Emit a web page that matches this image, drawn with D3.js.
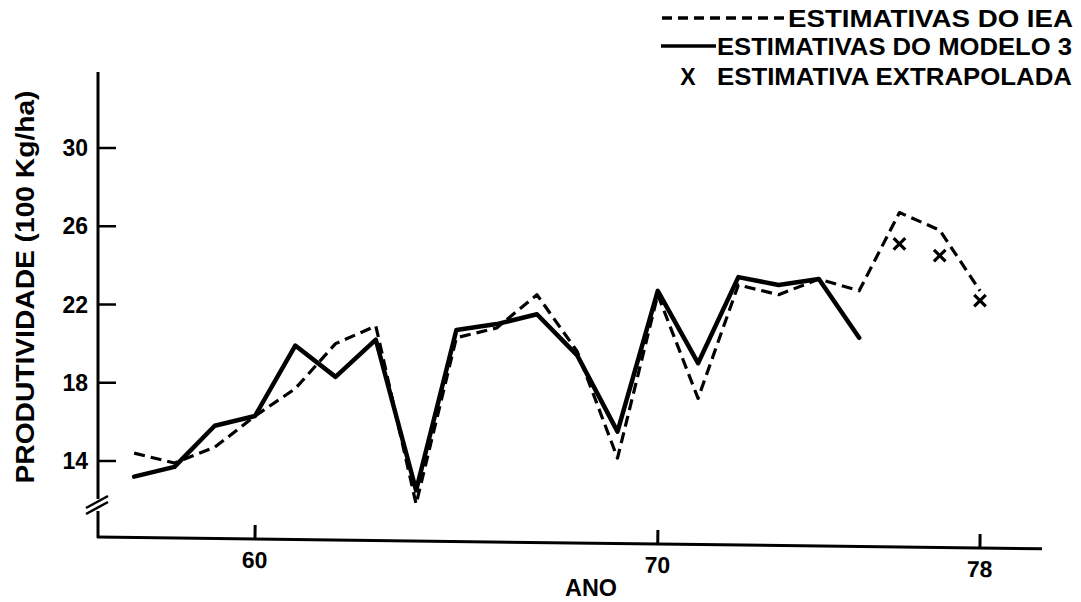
<!DOCTYPE html>
<html><head><meta charset="utf-8">
<script src="https://cdn.jsdelivr.net/npm/d3@7/dist/d3.min.js"></script>
<style>body{margin:0;background:#fff}svg{display:block}text{font-family:"Liberation Sans",Arial,sans-serif;font-weight:bold;fill:#000}</style>
</head><body><svg id="c" width="1081" height="602"></svg>
<script>
const years = [57,58,59,60,61,62,63,64,65,66,67,68,69,70,71,72,73,74,75,76,77,78];
const ieaValues = [14.4,13.9,14.7,16.3,17.7,20.0,20.9,11.8,20.3,20.8,22.5,19.6,14.15,22.5,17.2,23.0,22.5,23.3,22.7,26.7,25.8,22.7];
const modeloYears = [57,58,59,60,61,62,63,64,65,66,67,68,69,70,71,72,73,74,75];
const modeloValues = [13.2,13.7,15.8,16.3,19.9,18.3,20.2,12.5,20.7,21.0,21.5,19.4,15.5,22.7,19.0,23.4,23.0,23.3,20.3];
const extraYears = [76,77,78];
const extraValues = [25.1,24.5,22.2];
const xTicks = [60,70,78];
const yTicks = [14,18,22,26,30];
const legendLabels = ["ESTIMATIVAS DO IEA","ESTIMATIVAS DO MODELO 3","ESTIMATIVA EXTRAPOLADA"];
const xTitle = "ANO";
const yTitle = "PRODUTIVIDADE (100 Kg/ha)";

const svg = d3.select("#c");
const x = d3.scaleLinear().domain([60,78]).range([255,980]);
const y = d3.scaleLinear().domain([14,30]).range([461,148]);
const axisX = 98, axisY = 537;

// y axis with break
svg.append("line").attr("x1",axisX).attr("x2",axisX).attr("y1",72).attr("y2",499).attr("stroke","#000").attr("stroke-width",3);
svg.append("line").attr("x1",axisX).attr("x2",axisX).attr("y1",511).attr("y2",axisY+1).attr("stroke","#000").attr("stroke-width",3);
[0,6].forEach(o=>{
  svg.append("line").attr("x1",86).attr("y1",508+o).attr("x2",108).attr("y2",496+o).attr("stroke","#000").attr("stroke-width",2.5);
});
const yAx = svg.append("g");
yAx.selectAll("line").data(yTicks).join("line")
  .attr("x1",axisX).attr("x2",axisX+18).attr("y1",d=>y(d)).attr("y2",d=>y(d))
  .attr("stroke","#000").attr("stroke-width",2.5);
yAx.selectAll("text").data(yTicks).join("text")
  .attr("x",88).attr("y",d=>y(d)+8).attr("text-anchor","end")
  .attr("font-size",23).text(d=>d);
svg.append("text").attr("transform","translate(34,287) rotate(-90)")
  .attr("text-anchor","middle").attr("font-size",25)
  .attr("textLength",393).attr("lengthAdjust","spacingAndGlyphs").text(yTitle);

// x axis (slightly tilted like the scan)
const xg = svg.append("g").attr("transform",`rotate(0.72,${axisX},${axisY})`);
xg.append("line").attr("x1",axisX-1).attr("x2",1042).attr("y1",axisY).attr("y2",axisY).attr("stroke","#000").attr("stroke-width",3);
xg.selectAll("line.t").data(xTicks).join("line").attr("class","t")
  .attr("x1",d=>x(d)).attr("x2",d=>x(d)).attr("y1",axisY).attr("y2",axisY-14)
  .attr("stroke","#000").attr("stroke-width",3);
xg.selectAll("text").data(xTicks).join("text")
  .attr("x",d=>x(d)).attr("y",axisY+29).attr("text-anchor","middle")
  .attr("font-size",23).text(d=>d);
svg.append("text").attr("x",591).attr("y",596).attr("text-anchor","middle")
  .attr("font-size",24).attr("textLength",52).attr("lengthAdjust","spacingAndGlyphs").text(xTitle);

// series
const line = d3.line().x(d=>x(d[0])).y(d=>y(d[1]));
svg.append("path").datum(years.map((yr,i)=>[yr,ieaValues[i]]))
  .attr("d",line).attr("fill","none").attr("stroke","#000").attr("stroke-width",3.2)
  .attr("stroke-dasharray","11,6").attr("stroke-linejoin","round");
svg.append("path").datum(modeloYears.map((yr,i)=>[yr,modeloValues[i]]))
  .attr("d",line).attr("fill","none").attr("stroke","#000").attr("stroke-width",4.5)
  .attr("stroke-linejoin","round").attr("stroke-linecap","round");
const xSym = d3.symbol(d3.symbolX, 90);
svg.selectAll("path.xm").data(extraYears.map((yr,i)=>[yr,extraValues[i]])).join("path").attr("class","xm")
  .attr("transform",d=>`translate(${x(d[0])},${y(d[1])})`)
  .attr("d",xSym).attr("fill","none").attr("stroke","#000").attr("stroke-width",3.2);

// legend
const lg = svg.append("g");
lg.append("line").attr("x1",662).attr("x2",787).attr("y1",18).attr("y2",18).attr("stroke","#000").attr("stroke-width",3.5).attr("stroke-dasharray","10,6");
lg.append("line").attr("x1",661).attr("x2",716).attr("y1",46).attr("y2",46).attr("stroke","#000").attr("stroke-width",3.5);
lg.append("text").attr("x",688).attr("y",85).attr("text-anchor","middle").attr("font-size",23).text("X");
const lx = [788,717,717], ly = [27,55,85], lw = [285,355,355];
legendLabels.forEach((t,i)=>{
  lg.append("text").attr("x",lx[i]).attr("y",ly[i]).attr("font-size",24)
    .attr("textLength",lw[i]).attr("lengthAdjust","spacingAndGlyphs").text(t);
});
</script></body></html>
